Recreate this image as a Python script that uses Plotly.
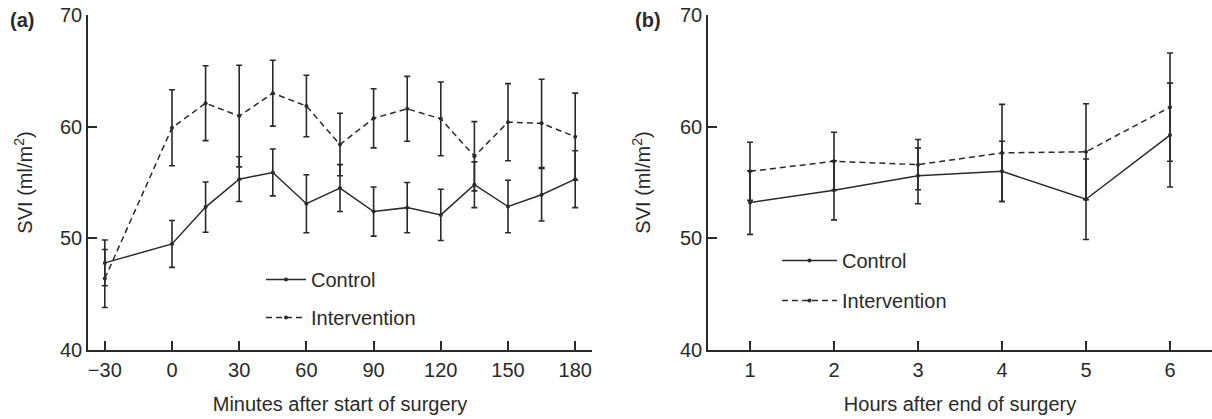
import plotly.graph_objects as go

# ---- data ----
minutes = [-30, 0, 15, 30, 45, 60, 75, 90, 105, 120, 135, 150, 165, 180]
control_a = [47.8, 49.5, 52.8, 55.3, 55.9, 53.1, 54.5, 52.4, 52.75, 52.1, 54.8, 52.85, 53.9, 55.3]
control_a_err = [2.05, 2.1, 2.25, 2.0, 2.1, 2.6, 2.1, 2.2, 2.25, 2.3, 2.05, 2.35, 2.35, 2.55]
interv_a = [46.4, 59.9, 62.1, 60.95, 63.0, 61.85, 58.4, 60.75, 61.6, 60.7, 57.35, 60.4, 60.3, 59.1]
interv_a_err = [2.6, 3.4, 3.35, 4.55, 2.95, 2.75, 2.8, 2.65, 2.9, 3.3, 3.1, 3.45, 3.95, 3.9]

hours = [1, 2, 3, 4, 5, 6]
control_b = [53.2, 54.3, 55.6, 56.0, 53.5, 59.25]
control_b_err = [2.85, 2.65, 2.5, 2.7, 3.6, 4.65]
interv_b = [56.0, 56.9, 56.6, 57.65, 57.75, 61.75]
interv_b_err = [2.6, 2.6, 2.25, 4.35, 4.3, 4.85]

x_ticks_a = [-30, 0, 30, 60, 90, 120, 150, 180]
x_ticks_b = [1, 2, 3, 4, 5, 6]
y_ticks = [40, 50, 60, 70]

FONT = "Liberation Sans, Arial, Helvetica, sans-serif"
INK = "#2a2a2a"
W, H = 1212, 419

fig = go.Figure()

def add_series(x, y, err, name, dash, xa, ya, legend, group):
    fig.add_trace(go.Scatter(
        x=x, y=y, name=name, mode="lines+markers",
        line=dict(color=INK, width=1.5, dash=dash),
        marker=dict(color=INK, size=4),
        error_y=dict(type="data", array=err, visible=True,
                     color=INK, thickness=1.6, width=3),
        xaxis=xa, yaxis=ya, legend=legend, legendgroup=group,
    ))

add_series(minutes, control_a, control_a_err, "Control", "solid", "x", "y", "legend", "ca")
add_series(minutes, interv_a, interv_a_err, "Intervention", "6px,4px", "x", "y", "legend", "ia")
add_series(hours, control_b, control_b_err, "Control", "solid", "x2", "y2", "legend2", "cb")
add_series(hours, interv_b, interv_b_err, "Intervention", "6px,4px", "x2", "y2", "legend2", "ib")

ydom = [1 - 350 / H, 1 - 15 / H]

axis_common = dict(
    showline=True, linecolor=INK, linewidth=1.5,
    ticks="inside", ticklen=9, tickwidth=1.5, tickcolor=INK,
    showgrid=False, zeroline=False, automargin=False,
    ticklabeloverflow="allow",
    tickfont=dict(family=FONT, size=20, color=INK),
)
title_font = dict(family=FONT, size=20, color=INK)

fig.update_layout(
    width=W, height=H,
    margin=dict(l=0, r=0, t=0, b=0),
    paper_bgcolor="white", plot_bgcolor="white",
    font=dict(family=FONT, size=20, color=INK),
    xaxis=dict(domain=[88 / W, 592 / W], range=[-37.5, 187.5],
               tickmode="array", tickvals=x_ticks_a, anchor="y",
               title=dict(text="Minutes after start of surgery", standoff=17, font=title_font),
               ticklabelstandoff=1, **axis_common),
    yaxis=dict(domain=ydom, range=[40, 70], tickmode="array", tickvals=y_ticks,
               anchor="x",
               title=dict(text="SVI (ml/m<sup>2</sup>)", standoff=22, font=title_font),
               ticklabelstandoff=0, **axis_common),
    xaxis2=dict(domain=[708 / W, 1.0], range=[0.5, 6.5],
                tickmode="array", tickvals=x_ticks_b, anchor="y2",
                title=dict(text="Hours after end of surgery", standoff=17, font=title_font),
                ticklabelstandoff=1, **axis_common),
    yaxis2=dict(domain=ydom, range=[40, 70], tickmode="array", tickvals=y_ticks,
                anchor="x2",
                title=dict(text="SVI (ml/m<sup>2</sup>)", standoff=24, font=title_font),
                ticklabelstandoff=0, **axis_common),
    legend=dict(x=261 / W, y=1 - 260 / H, xanchor="left", yanchor="top",
                bgcolor="rgba(0,0,0,0)", tracegroupgap=9, itemwidth=40,
                font=dict(family=FONT, size=20, color=INK)),
    legend2=dict(x=777 / W, y=1 - 241 / H, xanchor="left", yanchor="top",
                 bgcolor="rgba(0,0,0,0)", tracegroupgap=11, itemwidth=55,
                 font=dict(family=FONT, size=20, color=INK)),
    showlegend=True,
    annotations=[
        dict(text="<b>(a)</b>", x=8 / W, y=1 - 20 / H, xref="paper", yref="paper",
             xanchor="left", yanchor="middle", showarrow=False,
             font=dict(family=FONT, size=20, color=INK)),
        dict(text="<b>(b)</b>", x=633 / W, y=1 - 20 / H, xref="paper", yref="paper",
             xanchor="left", yanchor="middle", showarrow=False,
             font=dict(family=FONT, size=20, color=INK)),
    ],
)

# remove the default 8px page margin so the figure sits at the window's corner
fig.write_html("out.html", config={"displayModeBar": False},
               post_script="document.body.style.margin='0px';")
